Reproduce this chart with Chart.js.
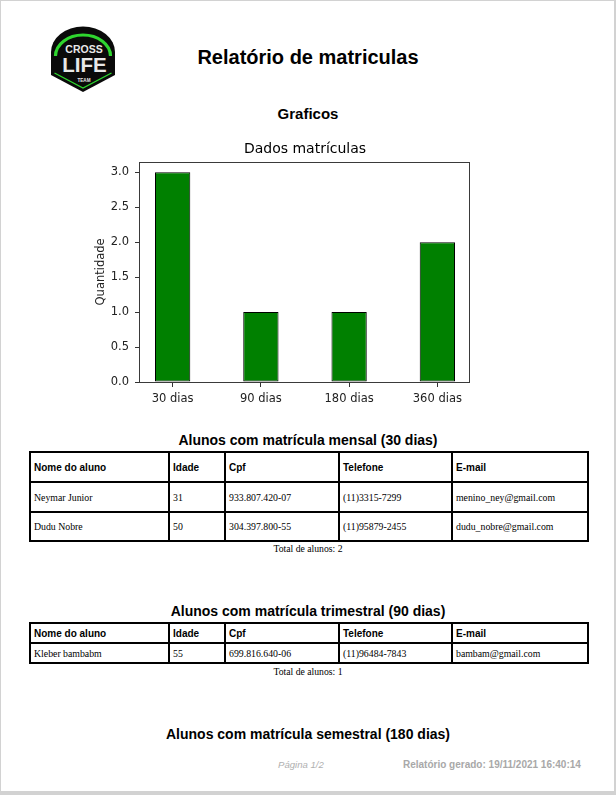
<!DOCTYPE html>
<html>
<head>
<meta charset="utf-8">
<script src="https://cdn.jsdelivr.net/npm/chart.js@4"></script>
<style>
  html, body { margin:0; padding:0; }
  body { width:616px; height:795px; background:#d2d2d2; position:relative; overflow:hidden; }
  #page { position:absolute; left:1px; top:1px; width:613px; height:790px; background:#fff; }
  .t { position:absolute; left:0; width:616px; text-align:center; white-space:nowrap; }
  .h { font-family:"Liberation Sans", Arial, sans-serif; font-weight:bold; color:#000; }
  .serif { font-family:"Liberation Serif", "Times New Roman", serif; color:#000; }
  table { position:absolute; border-collapse:separate; border-spacing:0; border:1px solid #000; table-layout:fixed; }
  td, th { border:1px solid #000; padding:0 0 0 3px; text-align:left; vertical-align:middle; overflow:hidden; white-space:nowrap; }
  th { font-family:"Liberation Sans", Arial, sans-serif; font-weight:bold; font-size:10px; }
  td { font-family:"Liberation Serif", "Times New Roman", serif; font-size:9.8px; }
  #chartWrap { position:absolute; left:80px; top:134px; width:400px; height:280px; }
</style>
</head>
<body>
<div id="page"></div>

<svg style="position:absolute;left:0;top:0" width="160" height="110" viewBox="0 0 160 110">
  <path d="M51,75 L51,52 A32,25.5 0 0 1 115,52 L115,75 L83,92 Z" fill="#0a0a0a"/>
  <path d="M55.5,56 A27.5,21 0 0 1 110.5,56" fill="none" stroke="#2fd62f" stroke-width="3.2"/>
  <path d="M54.5,73 L83,88 L111.5,73" fill="none" stroke="#2fd62f" stroke-width="1.4"/>
  <text x="84" y="53.3" text-anchor="middle" font-family="Liberation Sans" font-weight="bold" font-size="10.5" fill="#e8e8e8">CROSS</text>
  <text x="84.5" y="71.5" text-anchor="middle" font-family="Liberation Sans" font-weight="bold" font-size="20.5" fill="#e8e8e8">LIFE</text>
  <text x="84" y="82" text-anchor="middle" font-family="Liberation Sans" font-weight="bold" font-size="4.6" fill="#e8e8e8">TEAM</text>
</svg>

<div class="t h" style="top:45px;height:24px;line-height:24px;font-size:20px;">Relatório de matriculas</div>
<div class="t h" style="top:104px;height:20px;line-height:20px;font-size:15px;">Graficos</div>

<div id="chartWrap"><canvas id="c" width="400" height="280"></canvas></div>

<div class="t h" style="top:430px;height:20px;line-height:20px;font-size:14px;">Alunos com matrícula mensal (30 dias)</div>
<table id="t1" style="left:29px;top:451px;width:560px;"></table>
<div class="t serif" style="top:543px;height:12px;line-height:12px;font-size:9.7px;">Total de alunos: 2</div>

<div class="t h" style="top:601px;height:20px;line-height:20px;font-size:14px;">Alunos com matrícula trimestral (90 dias)</div>
<table id="t2" style="left:29px;top:622px;width:560px;"></table>
<div class="t serif" style="top:666px;height:12px;line-height:12px;font-size:9.7px;">Total de alunos: 1</div>

<div class="t h" style="top:724px;height:20px;line-height:20px;font-size:14px;">Alunos com matrícula semestral (180 dias)</div>

<div style="position:absolute;left:278px;top:759px;height:12px;line-height:12px;font-family:'Liberation Sans',Arial,sans-serif;font-style:italic;font-size:9.6px;color:#b0b0b0;white-space:nowrap;">Página 1/2</div>
<div style="position:absolute;left:403px;top:759px;height:12px;line-height:12px;font-family:'Liberation Sans',Arial,sans-serif;font-weight:bold;font-size:10px;color:#a8a8a8;white-space:nowrap;">Relatório gerado: 19/11/2021 16:40:14</div>

<script>
// ---- Chart data ----
const categories = ['30 dias', '90 dias', '180 dias', '360 dias'];
const quantities = [3, 1, 1, 2];
const yTicks = [0, 0.5, 1.0, 1.5, 2.0, 2.5, 3.0];
const chartTitle = 'Dados matrículas';
const yAxisTitle = 'Quantidade';

// ---- Table data ----
const tableHeaders = ['Nome do aluno', 'Idade', 'Cpf', 'Telefone', 'E-mail'];
const alunosMensal = [
  ['Neymar Junior', '31', '933.807.420-07', '(11)3315-7299', 'menino_ney@gmail.com'],
  ['Dudu Nobre', '50', '304.397.800-55', '(11)95879-2455', 'dudu_nobre@gmail.com']
];
const alunosTrimestral = [
  ['Kleber bambabm', '55', '699.816.640-06', '(11)96484-7843', 'bambam@gmail.com']
];

const colWidths = [139, 56, 114, 113, 136];
function buildTable(id, rows, headH, rowHs) {
  const t = document.getElementById(id);
  let html = '<colgroup>' + colWidths.map(w => '<col style="width:' + w + 'px">').join('') + '</colgroup>';
  html += '<tr style="height:' + headH + 'px">' + tableHeaders.map(h => '<th>' + h + '</th>').join('') + '</tr>';
  rows.forEach((r, i) => {
    html += '<tr style="height:' + rowHs[i] + 'px">' + r.map(c => '<td>' + c + '</td>').join('') + '</tr>';
  });
  t.innerHTML = html;
}
buildTable('t1', alunosMensal, 30, [30, 29]);
buildTable('t2', alunosTrimestral, 20, [20]);

// ---- Chart ----
const framePlugin = {
  id: 'frame',
  afterDatasetsDraw(chart) {
    const a = chart.chartArea, ctx = chart.ctx;
    ctx.save();
    ctx.strokeStyle = '#3a3a3a';
    ctx.lineWidth = 1;
    ctx.strokeRect(Math.round(a.left) - 0.5, Math.round(a.top) + 0.5, Math.round(a.right - a.left), Math.round(a.bottom - a.top));
    ctx.restore();
  }
};

const tickFont = { family: 'DejaVu Sans', size: 11.5 };
new Chart(document.getElementById('c'), {
  type: 'bar',
  data: {
    datasets: [{
      data: categories.map((c, i) => ({ x: i, y: quantities[i] })),
      backgroundColor: '#008000',
      borderColor: '#000',
      borderWidth: 1,
      borderSkipped: false,
      barPercentage: 0.4,
      categoryPercentage: 1.0
    }]
  },
  options: {
    responsive: false,
    devicePixelRatio: 1,
    animation: false,
    layout: { padding: { left: 0, right: 10, top: 0, bottom: 0 } },
    plugins: {
      legend: { display: false },
      tooltip: { enabled: false },
      title: {
        display: true,
        fullSize: false,
        text: chartTitle,
        color: '#000',
        font: { family: 'DejaVu Sans', size: 14, weight: 'normal', lineHeight: 1.2 },
        padding: { top: 7, bottom: 4 }
      }
    },
    scales: {
      x: {
        type: 'linear',
        offset: false,
        min: -0.37,
        max: 3.37,
        bounds: 'data',
        afterBuildTicks: s => { s.ticks = categories.map((c, i) => ({ value: i })); },
        afterFit: s => { s.height = 32; },
        ticks: {
          callback: v => categories[v],
          color: '#222',
          font: tickFont,
          padding: 5,
          maxRotation: 0,
          autoSkip: false
        },
        grid: { display: true, offset: false, drawOnChartArea: false, drawTicks: true, tickLength: 5, color: '#333' },
        border: { display: false }
      },
      y: {
        min: 0,
        max: 3.15,
        afterBuildTicks: s => { s.ticks = yTicks.map(v => ({ value: v })); },
        afterFit: s => { s.width = 60; },
        ticks: {
          callback: v => Number(v).toFixed(1),
          color: '#222',
          font: tickFont,
          padding: 6
        },
        title: {
          display: true,
          text: yAxisTitle,
          color: '#222',
          font: { family: 'DejaVu Sans', size: 11.5, lineHeight: 1.2 },
          padding: { top: 14, bottom: 0 }
        },
        grid: { display: true, drawOnChartArea: false, drawTicks: true, tickLength: 5, color: '#333' },
        border: { display: false }
      }
    }
  },
  plugins: [framePlugin]
});
</script>
</body>
</html>
